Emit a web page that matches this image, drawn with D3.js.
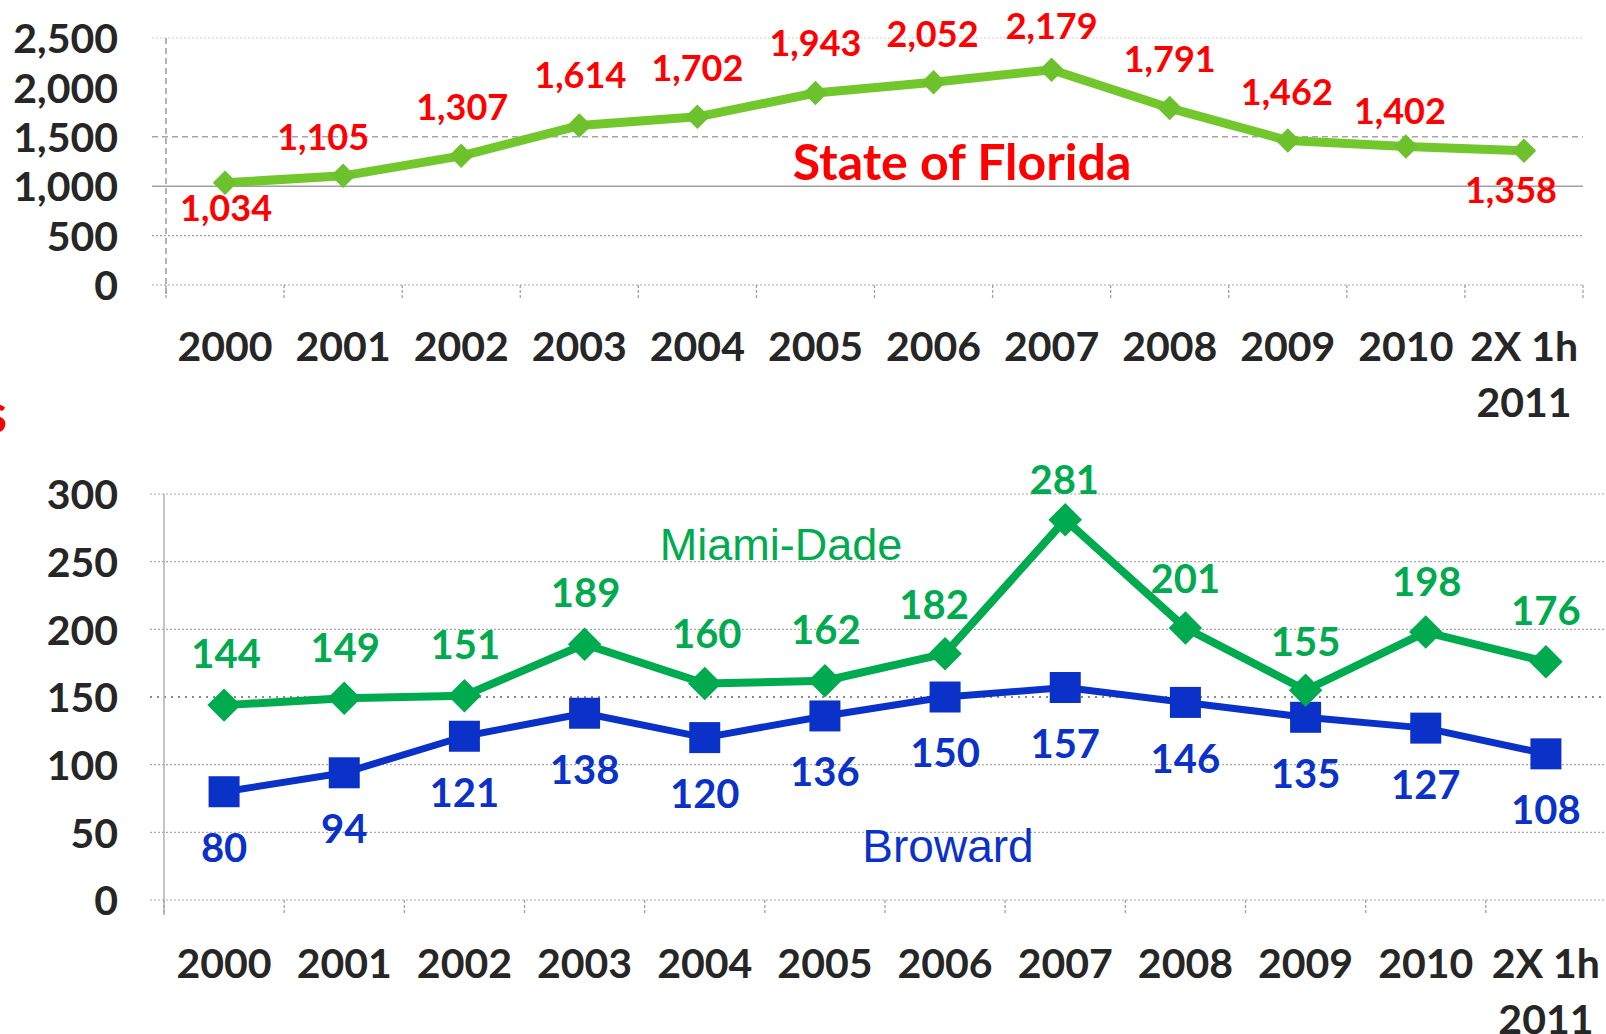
<!DOCTYPE html>
<html><head><meta charset="utf-8">
<script src="https://cdn.jsdelivr.net/npm/d3@7"></script>
<style>body{margin:0;background:#fff;overflow:hidden;} svg{display:block;}</style>
</head><body><svg id="c" width="1606" height="1034"></svg>
<script>
// ---------- data ----------
const categories = ["2000","2001","2002","2003","2004","2005","2006","2007","2008","2009","2010","2X 1h 2011"];
const tickLabelLines = [["2000"],["2001"],["2002"],["2003"],["2004"],["2005"],["2006"],["2007"],["2008"],["2009"],["2010"],["2X 1h","2011"]];
const floridaValues = [1034,1105,1307,1614,1702,1943,2052,2179,1791,1462,1402,1358];
const miamiValues   = [144,149,151,189,160,162,182,281,201,155,198,176];
const browardValues = [80,94,121,138,120,136,150,157,146,135,127,108];
const topTicks = [0,500,1000,1500,2000,2500];
const bottomTicks = [0,50,100,150,200,250,300];
const topTitle = "State of Florida";
const miamiName = "Miami-Dade";
const browardName = "Broward";

// ---------- layout (label offsets relative to points) ----------
const floridaLabelOffset = [[1,25],[-20,-39],[1,-49],[1,-50],[0,-49],[0,-50],[-1,-48],[0,-44],[0,-49],[-1,-49],[-6,-35],[-13,39]];
const miamiLabelOffset   = [[2,-52],[1,-51],[1,-51],[1,-52],[2,-50],[1,-51],[-11,-49],[-1,-40],[0,-49],[0,-49],[1,-50],[0,-51]];
const browardLabelDy = 56;

const svg = d3.select("#c");
const axisFont = "Lato, 'DejaVu Sans', sans-serif";
const txtCol = "#262626";

// ================= TOP CHART =================
const xTop = d3.scaleBand().domain(categories).range([166,1583]).padding(0);
const yTop = d3.scaleLinear().domain([0,2500]).range([285,38]);
const gTop = svg.append("g");

const topGridStyle = {0:["#a8a8a8","2,2",1.2],500:["#9a9a9a","2,2",1.2],1000:["#a0a0a0",null,1.5],1500:["#a5a5a5","6,4",1.5],2000:[null,null,0],2500:["#d0d0d0","2,2",1]};
gTop.selectAll("line.grid").data(topTicks).join("line")
  .attr("x1",152).attr("x2",xTop.range()[1])
  .attr("y1",d=>yTop(d)).attr("y2",d=>yTop(d))
  .attr("stroke",d=>topGridStyle[d][0]||"none")
  .attr("stroke-dasharray",d=>topGridStyle[d][1])
  .attr("stroke-width",d=>topGridStyle[d][2]);

gTop.append("line").attr("x1",xTop.range()[0]).attr("x2",xTop.range()[0])
  .attr("y1",yTop(2500)).attr("y2",yTop(0)+13)
  .attr("stroke","#9a9a9a").attr("stroke-width",1.5).attr("stroke-dasharray","6,4");
const topBounds = categories.map(c=>xTop(c)).concat([xTop.range()[1]]);
gTop.selectAll("line.tk").data(topBounds).join("line")
  .attr("x1",d=>d).attr("x2",d=>d).attr("y1",yTop(0)).attr("y2",yTop(0)+13)
  .attr("stroke","#a0a0a0").attr("stroke-width",1.3).attr("stroke-dasharray","3,2");

const yAxTop = gTop.append("g").attr("transform",`translate(${xTop.range()[0]},0)`)
  .call(d3.axisLeft(yTop).tickValues(topTicks).tickFormat(d3.format(",")).tickSize(0).tickPadding(48));
yAxTop.select(".domain").remove();
yAxTop.selectAll("text").attr("font-family",axisFont).attr("font-weight","bold")
  .attr("font-size",41).attr("fill",txtCol).attr("dy","0.36em");

const xAxTop = gTop.append("g").attr("transform",`translate(0,${yTop(0)})`)
  .call(d3.axisBottom(xTop).tickSize(0).tickFormat(""));
xAxTop.select(".domain").remove();
xAxTop.selectAll(".tick text").each(function(d,i){
  const t = d3.select(this).attr("y",0).attr("dy",null)
    .attr("font-family",axisFont).attr("font-weight","bold").attr("font-size",41).attr("fill",txtCol);
  tickLabelLines[i].forEach((ln,k)=>{
    t.append("tspan").attr("x",0).attr("y",61+0.36*41+k*56).text(ln);
  });
});

const topData = categories.map((c,i)=>({c, v:floridaValues[i], i}));
const cx = (x,c)=>x(c)+x.bandwidth()/2;
gTop.append("path").datum(topData)
  .attr("d", d3.line().x(d=>cx(xTop,d.c)).y(d=>yTop(d.v)))
  .attr("fill","none").attr("stroke","#72C72C").attr("stroke-width",9).attr("stroke-linejoin","round");
gTop.selectAll("path.mk").data(topData).join("path")
  .attr("d", d3.symbol(d3.symbolSquare, 300)())
  .attr("transform", d=>`translate(${cx(xTop,d.c)},${yTop(d.v)}) rotate(45)`)
  .attr("fill","#6CC12C");
gTop.selectAll("text.lbl").data(topData).join("text")
  .attr("x", d=>cx(xTop,d.c)+floridaLabelOffset[d.i][0])
  .attr("y", d=>yTop(d.v)+floridaLabelOffset[d.i][1])
  .attr("dy", (0.36*36)+"px")
  .attr("text-anchor","middle").attr("font-family",axisFont).attr("font-weight","bold")
  .attr("font-size",36).attr("fill","#FF0000")
  .text(d=>d3.format(",")(d.v));
gTop.append("text").attr("x",962).attr("y",162).attr("dy",(0.36*50)+"px")
  .attr("text-anchor","middle").attr("font-family",axisFont).attr("font-weight","bold")
  .attr("font-size",50).attr("fill","#FF0000").text(topTitle);

// ================= BOTTOM CHART =================
const xBot = d3.scaleBand().domain(categories).range([164,1606]).padding(0);
const yBot = d3.scaleLinear().domain([0,300]).range([900,494]);
const gBot = svg.append("g");

gBot.selectAll("line.grid").data(bottomTicks).join("line")
  .attr("x1",150).attr("x2",1606)
  .attr("y1",d=>yBot(d)).attr("y2",d=>yBot(d))
  .attr("stroke",d=>d===150?"#8a8a8a":"#a8a8a8")
  .attr("stroke-dasharray",d=>d===150?"2,5":"2,2")
  .attr("stroke-width",d=>d===150?1.8:1.2);
gBot.append("line").attr("x1",xBot.range()[0]).attr("x2",xBot.range()[0])
  .attr("y1",yBot(300)).attr("y2",yBot(0)+15)
  .attr("stroke","#b0b0b0").attr("stroke-width",1.5);
const botBounds = categories.map(c=>xBot(c));
gBot.selectAll("line.tk").data(botBounds).join("line")
  .attr("x1",d=>d).attr("x2",d=>d).attr("y1",yBot(0)).attr("y2",yBot(0)+13)
  .attr("stroke","#a0a0a0").attr("stroke-width",1.3).attr("stroke-dasharray","3,2");

const yAxBot = gBot.append("g").attr("transform",`translate(${xBot.range()[0]},0)`)
  .call(d3.axisLeft(yBot).tickValues(bottomTicks).tickSize(0).tickPadding(46));
yAxBot.select(".domain").remove();
yAxBot.selectAll("text").attr("font-family",axisFont).attr("font-weight","bold")
  .attr("font-size",41).attr("fill",txtCol).attr("dy","0.36em");

const xAxBot = gBot.append("g").attr("transform",`translate(0,${yBot(0)})`)
  .call(d3.axisBottom(xBot).tickSize(0).tickFormat(""));
xAxBot.select(".domain").remove();
xAxBot.selectAll(".tick text").each(function(d,i){
  const t = d3.select(this).attr("y",0).attr("dy",null)
    .attr("font-family",axisFont).attr("font-weight","bold").attr("font-size",41).attr("fill",txtCol);
  tickLabelLines[i].forEach((ln,k)=>{
    t.append("tspan").attr("x",0).attr("y",63+0.36*41+k*56).text(ln);
  });
});

const miamiData = categories.map((c,i)=>({c, v:miamiValues[i], i}));
const browData  = categories.map((c,i)=>({c, v:browardValues[i], i}));
const miamiCol = "#00AA4F", browCol = "#0A32C8";

gBot.append("path").datum(browData)
  .attr("d", d3.line().x(d=>cx(xBot,d.c)).y(d=>yBot(d.v)))
  .attr("fill","none").attr("stroke",browCol).attr("stroke-width",7).attr("stroke-linejoin","round");
gBot.selectAll("path.bmk").data(browData).join("path")
  .attr("d", d3.symbol(d3.symbolSquare, 31*31)())
  .attr("transform", d=>`translate(${cx(xBot,d.c)},${yBot(d.v)})`)
  .attr("fill",browCol);

gBot.append("path").datum(miamiData)
  .attr("d", d3.line().x(d=>cx(xBot,d.c)).y(d=>yBot(d.v)))
  .attr("fill","none").attr("stroke",miamiCol).attr("stroke-width",8).attr("stroke-linejoin","round");
gBot.selectAll("path.mmk").data(miamiData).join("path")
  .attr("d", d3.symbol(d3.symbolSquare, 560)())
  .attr("transform", d=>`translate(${cx(xBot,d.c)},${yBot(d.v)}) rotate(45)`)
  .attr("fill",miamiCol);

gBot.selectAll("text.mlbl").data(miamiData).join("text")
  .attr("x", d=>cx(xBot,d.c)+miamiLabelOffset[d.i][0])
  .attr("y", d=>yBot(d.v)+miamiLabelOffset[d.i][1])
  .attr("dy",(0.36*40)+"px")
  .attr("text-anchor","middle").attr("font-family",axisFont).attr("font-weight","bold")
  .attr("font-size",40).attr("fill",miamiCol).text(d=>d.v);
gBot.selectAll("text.blbl").data(browData).join("text")
  .attr("x", d=>cx(xBot,d.c))
  .attr("y", d=>yBot(d.v)+browardLabelDy)
  .attr("dy",(0.36*40)+"px")
  .attr("text-anchor","middle").attr("font-family",axisFont).attr("font-weight","bold")
  .attr("font-size",40).attr("fill",browCol).text(d=>d.v);

gBot.append("text").attr("x",781).attr("y",544).attr("dy",(0.36*45)+"px")
  .attr("text-anchor","middle").attr("font-family","'Liberation Sans', Arial, sans-serif")
  .attr("font-size",45).attr("fill",miamiCol).text(miamiName);
gBot.append("text").attr("x",948).attr("y",846).attr("dy",(0.36*45)+"px")
  .attr("text-anchor","middle").attr("font-family","'Liberation Sans', Arial, sans-serif")
  .attr("font-size",46).attr("fill",browCol).text(browardName);

// cropped red character at left edge (as in the reference)
svg.append("text").attr("x",7).attr("y",433).attr("text-anchor","end")
  .attr("font-family",axisFont).attr("font-weight","bold").attr("font-size",56)
  .attr("fill","#FF0000").text("s");
</script></body></html>
